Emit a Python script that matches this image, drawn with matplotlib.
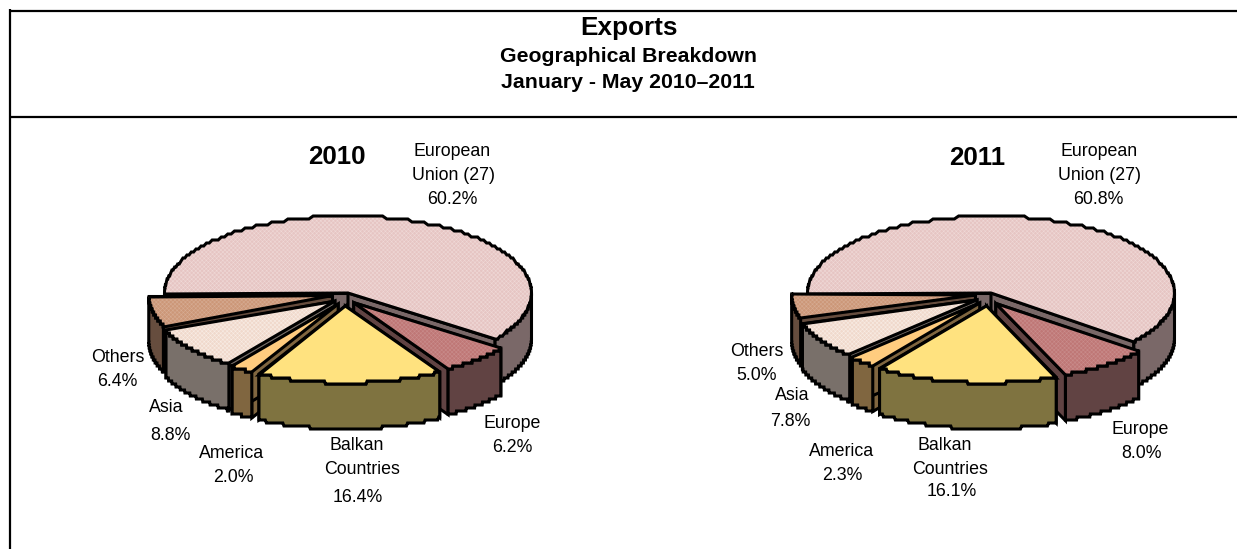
import numpy as np
import matplotlib
matplotlib.use("Agg")
import matplotlib.pyplot as plt
from matplotlib.patches import Polygon

plt.rcParams['font.family'] = ['Liberation Sans', 'DejaVu Sans']
plt.rcParams['hatch.linewidth'] = 0.4

# slices go clockwise starting from the left of the pie
categories = ["European Union (27)", "Europe", "Balkan Countries", "America", "Asia", "Others"]
values_2010 = [60.2, 6.2, 16.4, 2.0, 8.8, 6.4]
values_2011 = [60.8, 8.0, 16.1, 2.3, 7.8, 5.0]
top_colors = ["#E6C5C3", "#BF7776", "#FFE27F", "#FFCC7F", "#F0D9CC", "#CC9778"]
hatch_colors = ["#EFD8D6", "#C98C8B", None, None, "#F8ECE4", "#D6AB92"]
side_colors = ["#7A6868", "#614343", "#7F7340", "#806640", "#79706A", "#664D3E"]
exploded = [False, True, True, True, True, True]
draw_order = [0, 5, 4, 3, 1, 2]

RX, RY, DEPTH = 183.5, 77, 46
EX, EY, SHIFT = 13, 13, -3


def stepped(pts):
    # the original has a stair step look along the arcs
    pts = pts.copy()
    pts[:, 1] = np.round(pts[:, 1] / 3) * 3
    return pts


def ellipse(ox, oy, a0, a1):
    t = np.radians(np.linspace(a0, a1, 160))
    return np.c_[ox + RX * np.cos(t), oy - RY * np.sin(t)]


def draw_pie(ax, cx, cy, values):
    ends = 180 - np.cumsum(values) * 3.6
    starts = np.r_[180, ends[:-1]]
    for i in draw_order:
        a0, a1 = starts[i], ends[i]
        mid = np.radians((a0 + a1) / 2)
        ox, oy = cx, cy
        if exploded[i]:
            ox += SHIFT + EX * np.cos(mid)
            oy -= EY * np.sin(mid)
        arc = ellipse(ox, oy, a0, a1)
        apex = np.array([ox, oy])
        down = np.array([0, DEPTH])

        # cut faces, then the rim facing the viewer
        for p in (arc[0], arc[-1]):
            quad = [apex, p, p + down, apex + down]
            ax.add_patch(Polygon(quad, fc=side_colors[i], ec="black", lw=2.2, joinstyle="miter"))
        front = ellipse(ox, oy, min(a0, 0), a1)
        rim = np.r_[stepped(front), stepped(front + down)[::-1]]
        ax.add_patch(Polygon(rim, fc=side_colors[i], ec="black", lw=2.2, joinstyle="miter"))

        top = np.r_[[apex], stepped(arc)]
        ax.add_patch(Polygon(top, fc=top_colors[i], ec="none"))
        if hatch_colors[i]:
            ax.add_patch(Polygon(top, fc="none", ec=hatch_colors[i], lw=0, hatch="xxxxxxxx"))
        ax.add_patch(Polygon(top, fc="none", ec="black", lw=2.2, joinstyle="miter"))


fig = plt.figure(figsize=(12.37, 5.49), dpi=100)
ax = fig.add_axes([0, 0, 1, 1])
ax.set_xlim(0, 1237)
ax.set_ylim(549, 0)
ax.axis("off")

# frame, open on the right
ax.plot([10, 10], [9, 549], color="black", lw=1.6, solid_capstyle="butt")
ax.plot([10, 1237], [11, 11], color="black", lw=1.6, solid_capstyle="butt")
ax.plot([10, 1237], [117, 117], color="black", lw=1.6, solid_capstyle="butt")

ax.text(629, 28, "Exports", ha="center", va="center", fontsize=18.8, fontweight="bold")
ax.text(629, 56, "Geographical Breakdown", ha="center", va="center", fontsize=15.3, fontweight="bold")
ax.text(628, 82, "January - May 2010–2011", ha="center", va="center", fontsize=15.3, fontweight="bold")

draw_pie(ax, 348, 293, values_2010)
draw_pie(ax, 991, 293, values_2011)

ax.text(337, 157, "2010", ha="center", va="center", fontsize=18.6, fontweight="bold")
ax.text(977, 158, "2011", ha="center", va="center", fontsize=18.6, fontweight="bold")

labels_2010 = [("European", 452, 151), ("Union (27)", 453, 176), ("60.2%", 452, 200),
               ("Others", 118, 357), ("6.4%", 117, 381), ("Asia", 166, 408), ("8.8%", 170, 435),
               ("America", 232, 453), ("2.0%", 233, 477), ("Balkan", 357, 445),
               ("Countries", 362, 469), ("16.4%", 358, 497), ("Europe", 512, 424), ("6.2%", 512, 448)]
labels_2011 = [("European", 1099, 151), ("Union (27)", 1099, 176), ("60.8%", 1098, 200),
               ("Others", 757, 351), ("5.0%", 757, 375), ("Asia", 792, 395), ("7.8%", 790, 421),
               ("America", 842, 451), ("2.3%", 842, 475), ("Balkan", 945, 445),
               ("Countries", 950, 469), ("16.1%", 952, 492), ("Europe", 1140, 429), ("8.0%", 1141, 453)]
for s, x, y in labels_2010 + labels_2011:
    ax.text(x, y, s, ha="center", va="center", fontsize=12.8, color="black", zorder=5)

fig.savefig("out.png", dpi=100)
